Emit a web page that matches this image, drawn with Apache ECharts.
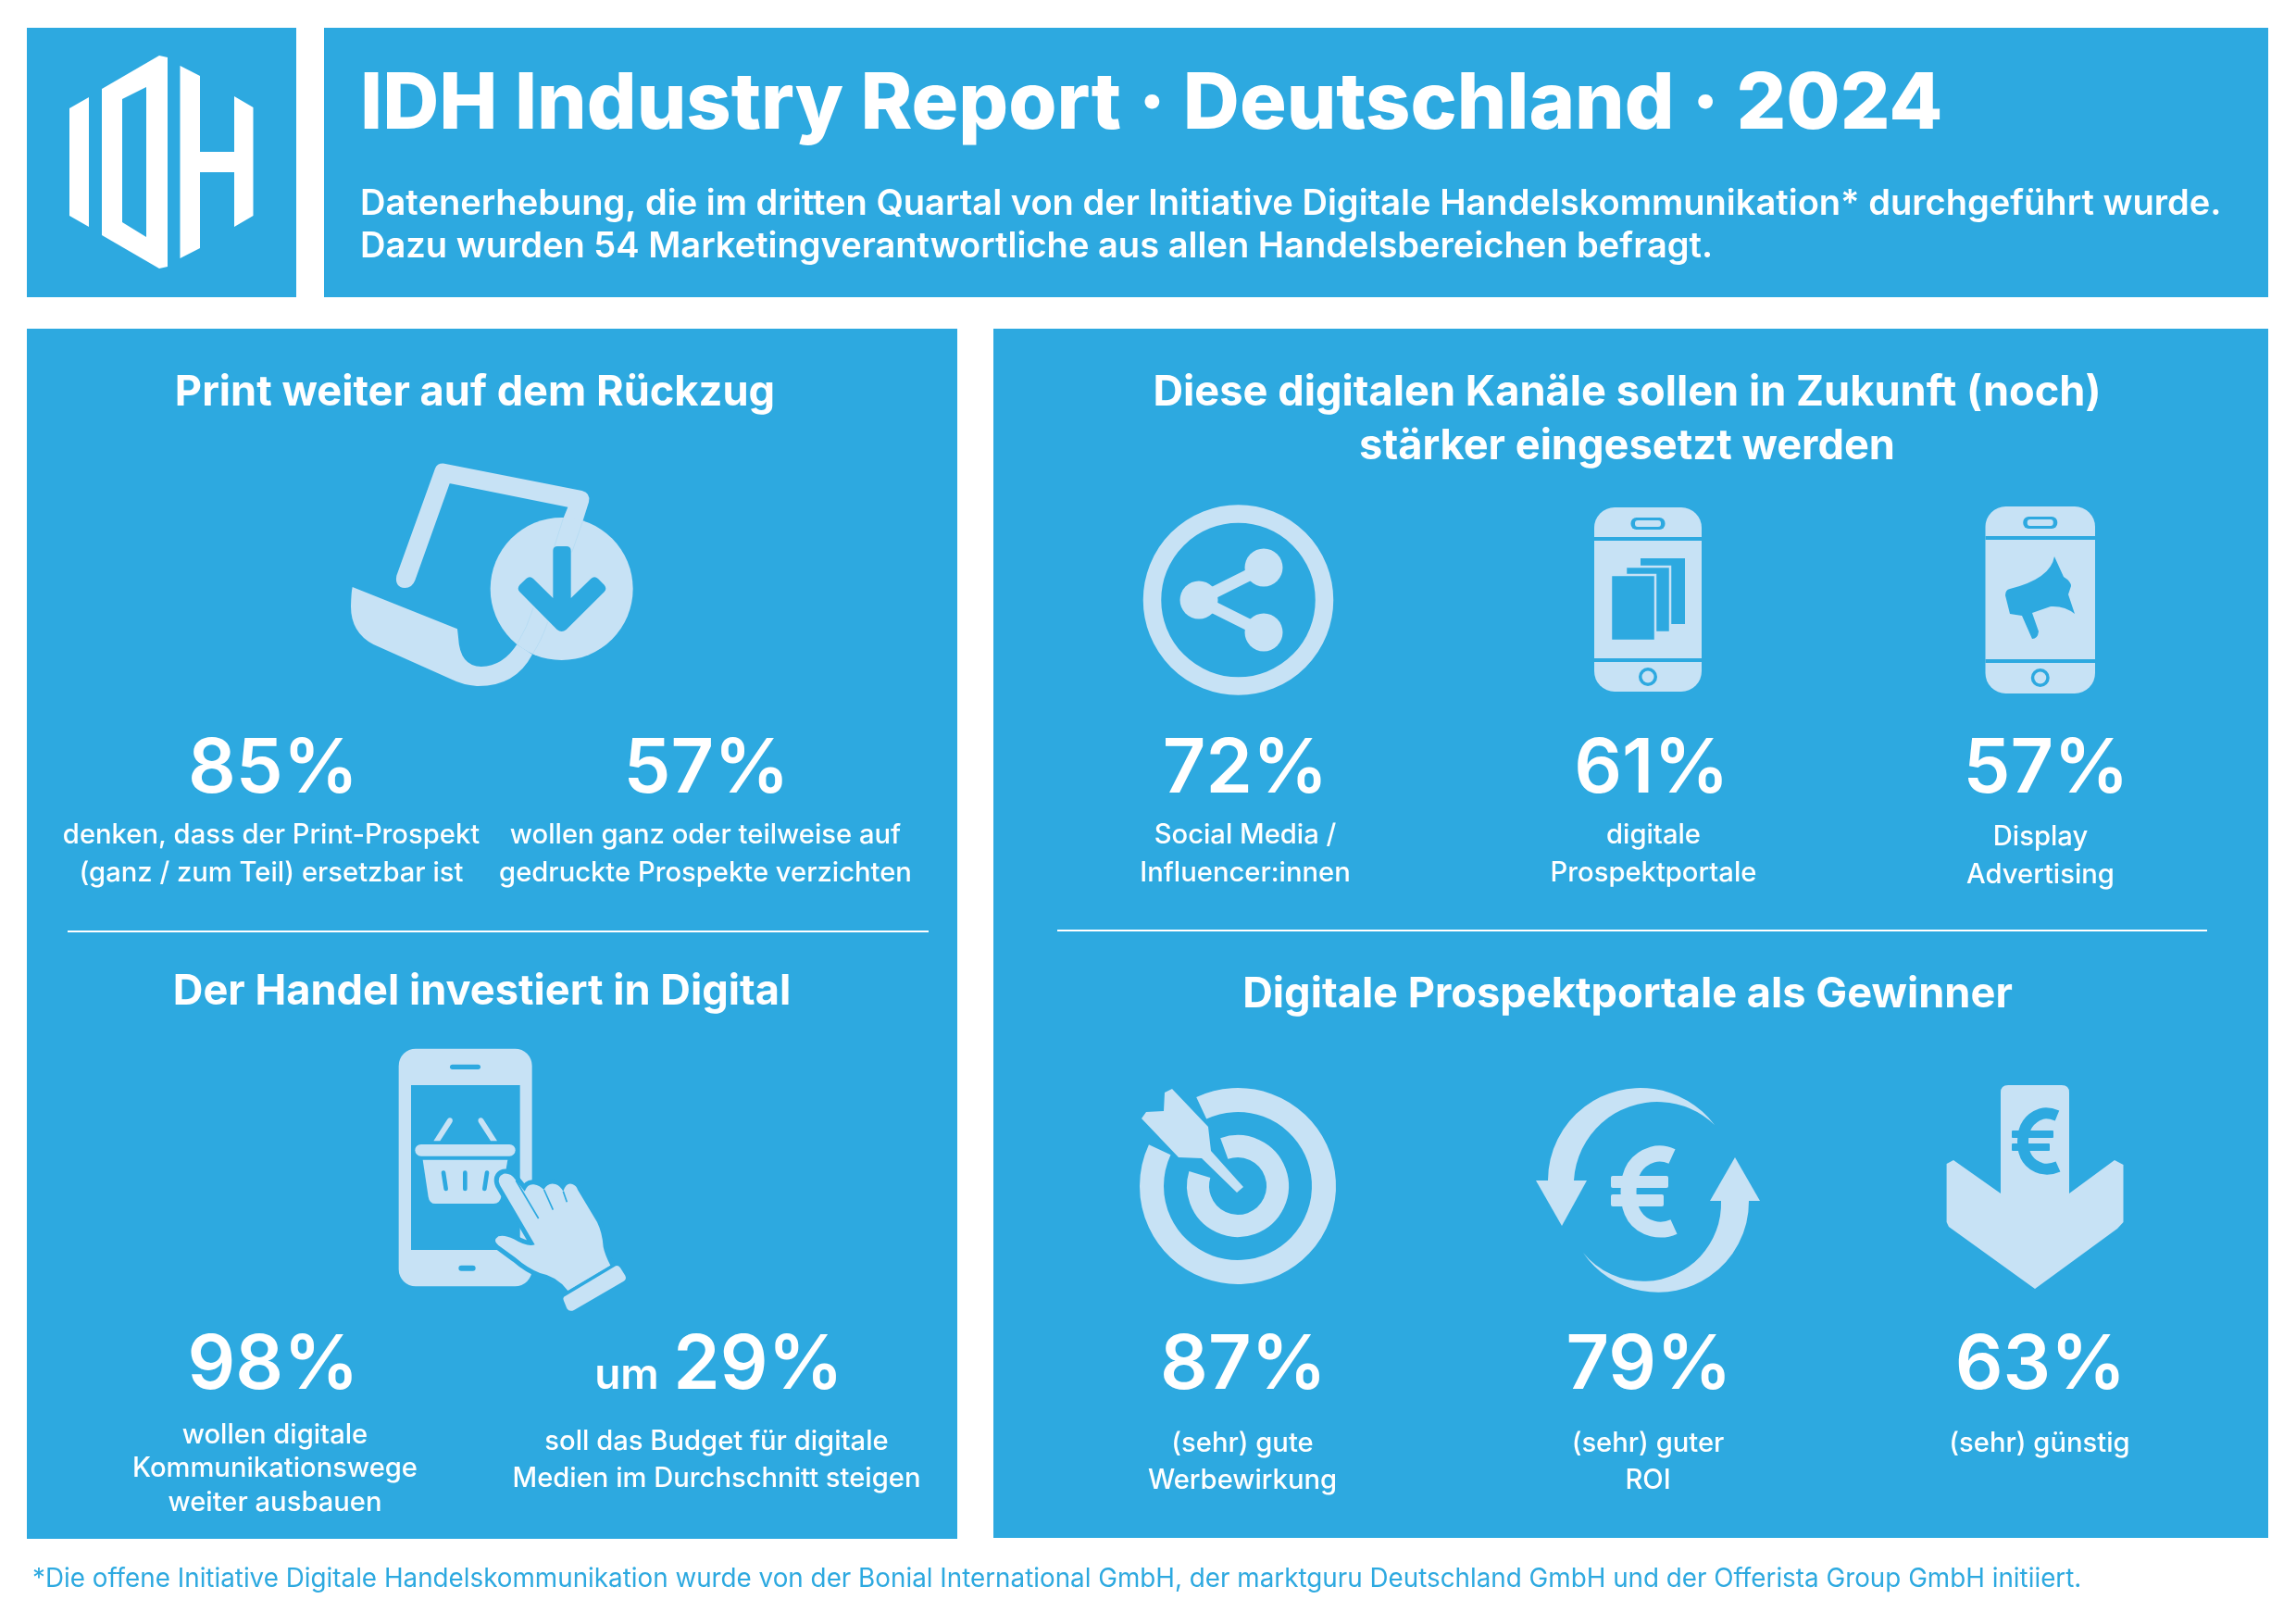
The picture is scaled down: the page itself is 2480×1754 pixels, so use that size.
<!DOCTYPE html>
<html>
<head>
<meta charset="utf-8">
<title>IDH Industry Report</title>
<script src="https://cdn.jsdelivr.net/npm/echarts@6/dist/echarts.min.js"></script>
<style>
  html, body { margin: 0; padding: 0; background: #fff; }
  #main { width: 2480px; height: 1754px; }
</style>
</head>
<body>
<div id="main"></div>
<script>
// --- data ---
var headerTitle = 'IDH Industry Report · Deutschland · 2024';
var headerLines = [
  'Datenerhebung, die im dritten Quartal von der Initiative Digitale Handelskommunikation* durchgeführt wurde.',
  'Dazu wurden 54 Marketingverantwortliche aus allen Handelsbereichen befragt.'
];
var footnote = '*Die offene Initiative Digitale Handelskommunikation wurde von der Bonial International GmbH, der marktguru Deutschland GmbH und der Offerista Group GmbH initiiert.';

var printTitle = 'Print weiter auf dem Rückzug';
var printValues = [85, 57];
var printLabels = [
  ['denken, dass der Print-Prospekt', '(ganz / zum Teil) ersetzbar ist'],
  ['wollen ganz oder teilweise auf', 'gedruckte Prospekte verzichten']
];

var digitalTitle = 'Der Handel investiert in Digital';
var digitalValues = [98, 29];
var digitalLabels = [
  ['wollen digitale', 'Kommunikationswege', 'weiter ausbauen'],
  ['soll das Budget für digitale', 'Medien im Durchschnitt steigen']
];

var channelTitle = ['Diese digitalen Kanäle sollen in Zukunft (noch)', 'stärker eingesetzt werden'];
var channelValues = [72, 61, 57];
var channelLabels = [
  ['Social Media /', 'Influencer:innen'],
  ['digitale', 'Prospektportale'],
  ['Display', 'Advertising']
];

var winnerTitle = 'Digitale Prospektportale als Gewinner';
var winnerValues = [87, 79, 63];
var winnerLabels = [
  ['(sehr) gute', 'Werbewirkung'],
  ['(sehr) guter', 'ROI'],
  ['(sehr) günstig']
];

// --- styles ---
var BLUE = '#2DA9E0';
var LIGHT = '#C7E2F5';
var FONT = 'Inter';
var TITLE_SIZE = 45.2;
var PCT_SIZE = 81;

// --- panels and text ---
var elements = [];

function rect(x, y, w, h) {
  elements.push({ type: 'rect', shape: { x: x, y: y, width: w, height: h }, style: { fill: BLUE }, silent: true });
}
function rule(x1, x2, y) {
  elements.push({ type: 'rect', shape: { x: x1, y: y - 1, width: x2 - x1, height: 2 }, style: { fill: '#fff' }, silent: true, z: 1 });
}
function text(str, x, y, size, weight, align, color) {
  elements.push({
    type: 'text', x: x, y: y, silent: true, z: 1,
    style: {
      text: str, fontFamily: FONT, fontSize: size, fontWeight: weight,
      fill: color || '#fff', textAlign: align || 'center', textVerticalAlign: 'middle'
    }
  });
}
function lines(list, x, y, step) {
  list.forEach(function (s, i) { text(s, x, y + i * step, 29.2, 500); });
}

rect(29, 30, 291, 291);
rect(350, 30, 2100, 291);
rect(29, 355, 1005, 1307);
rect(1073, 355, 1377, 1306);
rule(73, 1003, 1006);
rule(1142, 2384, 1005);

text(headerTitle, 389, 114, 84.5, 800, 'left');
text(headerLines[0], 389, 220.5, 38.05, 600, 'left');
text(headerLines[1], 389, 266.5, 38.05, 600, 'left');

text(printTitle, 513, 424, TITLE_SIZE, 700);
text(printValues[0] + '%', 295, 832, PCT_SIZE, 600);
text(printValues[1] + '%', 763, 832, PCT_SIZE, 600);
lines(printLabels[0], 293, 902.5, 41);
lines(printLabels[1], 762, 902.5, 41);

text(digitalTitle, 520.5, 1071, TITLE_SIZE, 700);
text(digitalValues[0] + '%', 295, 1476, PCT_SIZE, 600);
text('um', 677, 1486, 46, 600);
text(digitalValues[1] + '%', 819, 1476, PCT_SIZE, 600);
lines(digitalLabels[0], 297, 1550, 36.5);
lines(digitalLabels[1], 774, 1557.5, 40);

text(channelTitle[0], 1757.5, 424, TITLE_SIZE, 700);
text(channelTitle[1], 1757.5, 482.5, TITLE_SIZE, 700);
[1345, 1784, 2210].forEach(function (x, i) { text(channelValues[i] + '%', x, 832, PCT_SIZE, 600); });
lines(channelLabels[0], 1345, 902.5, 41);
lines(channelLabels[1], 1786, 902.5, 41);
lines(channelLabels[2], 2204, 904.5, 41);

text(winnerTitle, 1758, 1074, TITLE_SIZE, 700);
[1343, 1781, 2204].forEach(function (x, i) { text(winnerValues[i] + '%', x, 1476, PCT_SIZE, 600); });
lines(winnerLabels[0], 1342, 1559.5, 40);
lines(winnerLabels[1], 1780, 1559.5, 40);
lines(winnerLabels[2], 2203, 1559.5, 40);

text(footnote, 35, 1705.5, 27.8, 400, 'left', BLUE);

// --- icon helpers ---
function fillPath(d, color) {
  return { type: 'path', shape: { pathData: d }, style: { fill: color || LIGHT } };
}
function strokePath(d, color, width, cap) {
  return { type: 'path', shape: { pathData: d }, style: { fill: 'none', stroke: color, lineWidth: width, lineCap: cap || 'butt' } };
}
function circle(cx, cy, r, color) {
  return { type: 'circle', shape: { cx: cx, cy: cy, r: r }, style: { fill: color || LIGHT } };
}
function box(x, y, w, h, r, color, border) {
  return {
    type: 'rect', shape: { x: x, y: y, width: w, height: h, r: r },
    style: { fill: color || LIGHT, stroke: border || null, lineWidth: border ? 2.5 : 0 }
  };
}
function arc(cx, cy, r, from, to, width) {
  return {
    type: 'arc',
    shape: { cx: cx, cy: cy, r: r, startAngle: from * Math.PI / 180, endAngle: to * Math.PI / 180, clockwise: true },
    style: { fill: 'none', stroke: LIGHT, lineWidth: width, lineCap: 'butt' }
  };
}

function logo() {
  return { type: 'group', children: [
    { type: 'polygon', shape: { points: [[75, 117], [96, 105], [96, 245], [75, 233]] }, style: { fill: '#fff' } },
    { type: 'polygon', shape: { points: [[110, 96], [172, 60], [181, 62], [181, 288], [172, 290], [110, 254]] }, style: { fill: '#fff' } },
    { type: 'polygon', shape: { points: [[132, 107], [158, 94], [158, 256], [132, 240]] }, style: { fill: BLUE } },
    { type: 'polygon', shape: { points: [[194.5, 71], [216, 82], [216, 164], [253, 164], [253, 104], [273.5, 116], [273.5, 233], [253, 245], [253, 186], [216, 186], [216, 268], [194.5, 279]] }, style: { fill: '#fff' } }
  ] };
}

function printIcon() {
  return { type: 'group', x: 340, y: 480, scaleX: 1 / 3, scaleY: 1 / 3, children: [
    fillPath('M265,425 L390,78 Q397,60 420,62 L866,150 Q895,158 888,187 L868,250 L805,240 L820,203 L440,127 L437,127 L325,440 Q315,465 292,465 Q258,462 265,425 Z'),
    fillPath('M122,462 L462,598 L465,625 Q470,720 540,720 Q610,718 655,648 L705,680 Q650,785 525,783 Q480,780 440,760 L190,648 Q117,610 117,525 Q118,480 122,462 Z'),
    circle(800, 468, 231),
    strokePath('M805,240 L772,345 M868,250 L833,350 M708,530 Q690,590 655,648 M755,575 Q735,635 705,680', '#A9D6F0', 1.5),
    fillPath('M772,345 Q772,330 787,330 L815,330 Q830,330 830,345 L830,498 L895,435 Q906,425 918,435 L938,455 Q948,467 938,478 L815,600 Q800,612 785,600 L664,478 Q654,467 664,455 L685,435 Q697,425 708,435 L772,498 Z', BLUE)
  ] };
}

function handIcon() {
  var hand = 'M420,510 Q408,482 432,473 Q455,470 470,492 L500,530 Q510,505 530,508 Q550,512 562,525 Q575,500 600,507 Q615,512 625,530 Q635,500 655,507 Q668,512 672,525 L735,630 Q752,665 755,710 Q760,735 778,770 L640,852 Q605,805 550,795 Q510,780 470,745 L415,705 Q395,690 415,676 Q435,670 465,685 Q510,712 533,703 Z';
  return { type: 'group', x: 400, y: 1110, scaleX: 1 / 3, scaleY: 1 / 3, children: [
    box(92, 68, 432, 770, 55),
    box(132, 186, 353, 534, 0, BLUE),
    box(258, 119, 99, 16, 8, BLUE),
    box(286, 770, 55, 18, 9, BLUE),
    box(145, 378, 325, 38, 19),
    fillPath('M205,367 L250,296 Q258,288 266,296 Q268,302 264,308 L226,367 Z'),
    fillPath('M411,367 L366,296 Q358,288 350,296 Q348,302 352,308 L390,367 Z'),
    fillPath('M170,428 L445,428 L425,545 Q420,570 400,570 L210,570 Q192,570 188,548 Z'),
    strokePath('M237,470 L245,522 M307,470 L307,522 M378,470 L370,522', BLUE, 14, 'round'),
    { type: 'path', shape: { pathData: hand }, style: { fill: BLUE, stroke: BLUE, lineWidth: 30, lineJoin: 'round' } },
    fillPath(hand),
    fillPath('M627,872 L795,772 Q803,768 810,778 L826,803 Q832,815 820,822 L660,915 Q645,922 637,910 L627,885 Q623,877 627,872 Z'),
    strokePath('M638,858 L782,772', BLUE, 6),
    strokePath('M472,495 L545,618 M563,525 L592,590 M625,530 L637,565', BLUE, 5)
  ] };
}

function shareIcon() {
  return { type: 'group', children: [
    { type: 'circle', shape: { cx: 1337.5, cy: 648, r: 93 }, style: { fill: 'none', stroke: LIGHT, lineWidth: 19.5 } },
    strokePath('M1365,613 L1295,648 L1365,683', LIGHT, 13),
    circle(1365, 613, 20.5),
    circle(1295, 648, 20.5),
    circle(1365, 683, 20.5)
  ] };
}

function phoneFrame(x, w, top, h, gap1, gap2, homeY) {
  var cx = x + w / 2;
  return [
    box(x, top, w, h, 22),
    box(x, gap1, w, 4, 0, BLUE),
    box(x, gap2, w, 4, 0, BLUE),
    box(cx - 18.5, top + 11, 37, 13, 6, BLUE),
    box(cx - 14, top + 14, 28, 7, 3, LIGHT),
    circle(cx, homeY, 10, BLUE),
    circle(cx, homeY, 6.5)
  ];
}

function docsIcon() {
  return { type: 'group', children: phoneFrame(1722, 116, 548, 199, 580, 711, 731).concat([
    box(1772, 603, 48, 71, 0, BLUE),
    box(1756, 612, 48, 71, 0, BLUE, LIGHT),
    box(1740, 621, 48, 71, 0, BLUE, LIGHT)
  ]) };
}

function adIcon() {
  return { type: 'group', children: phoneFrame(2144.5, 118.5, 547, 202, 579, 712, 732).concat([
    fillPath('M2219,601 L2229,623 Q2237,628 2237,633 L2234,642 L2241,663 Q2230,654 2215,655 L2195,662 L2202,682 Q2201,690 2195,690 L2184,665 L2171,663 L2166,643 Q2166,637 2171,636 Q2215,625 2219,601 Z', BLUE)
  ]) };
}

function targetIcon() {
  return { type: 'group', children: [
    arc(1337, 1281, 93, -115, 205, 26),
    arc(1337, 1281, 43, -110, 197, 24),
    fillPath('M1336,1288 L1343,1282 L1308,1243 L1305,1217 L1266,1176 L1258,1180 L1257,1200 L1238,1201 L1233,1208 L1273,1250 L1298,1251 Z')
  ] };
}

function roiIcon() {
  return { type: 'group', children: [
    fillPath('M1852,1215 A100,100 0 0 0 1672,1275 L1700,1275 A90,90 0 0 1 1852,1215 Z'),
    fillPath('M1659,1275 L1714,1275 L1687,1324 Z'),
    fillPath('M1710,1353 A98,98 0 0 0 1889,1297 L1859,1297 A84,84 0 0 1 1710,1353 Z'),
    fillPath('M1847,1297 L1901,1297 L1874,1250 Z'),
    strokePath('M1806,1249 Q1795,1244 1785,1247 Q1759,1255 1759,1287 Q1759,1320 1785,1327 Q1797,1330 1808,1325', LIGHT, 17),
    box(1740, 1270, 62, 13, 2),
    box(1740, 1290, 57, 13, 2)
  ] };
}

function priceIcon() {
  return { type: 'group', children: [
    fillPath('M2161,1180 Q2161,1172 2169,1172 L2227,1172 Q2235,1172 2235,1180 L2235,1289 L2284,1253 L2293.5,1258 L2293.5,1320 L2287,1327 L2198,1392 L2105,1325 L2102.6,1320 L2102.6,1257 L2110,1253 L2161,1289 Z'),
    strokePath('M2222,1205 Q2212,1201 2205,1203 Q2185,1210 2185,1233 Q2185,1256 2205,1262 Q2214,1264 2223,1260', BLUE, 12),
    box(2173, 1221, 45, 8, 1, BLUE),
    box(2173, 1235, 41, 8, 1, BLUE)
  ] };
}

var chart = echarts.init(document.getElementById('main'), null, { renderer: 'canvas' });

chart.setOption({
  animation: false,
  backgroundColor: '#fff',
  graphic: { elements: elements },
  series: [{
    type: 'custom',
    coordinateSystem: 'none',
    silent: true,
    z: 5,
    data: [[0]],
    renderItem: function () {
      return { type: 'group', children: [
        logo(), printIcon(), handIcon(), shareIcon(), docsIcon(), adIcon(), targetIcon(), roiIcon(), priceIcon()
      ] };
    }
  }]
});
</script>
</body>
</html>
